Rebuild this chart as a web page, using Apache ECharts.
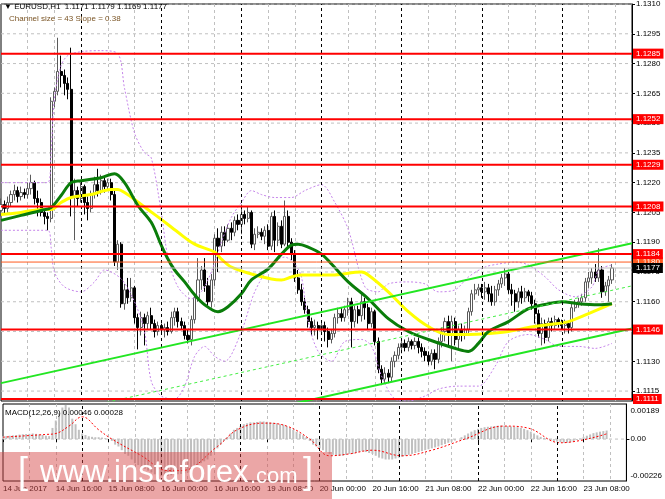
<!DOCTYPE html>
<html><head><meta charset="utf-8">
<script src="https://cdn.jsdelivr.net/npm/echarts/dist/echarts.min.js"></script>
<style>html,body{margin:0;padding:0;background:#fff}#c{width:665px;height:499px}</style>
</head><body><div id="c"></div>
<script>
// ---------- data ----------
const tradingDays = ['14 Jun','15 Jun','16 Jun','19 Jun','20 Jun','21 Jun','22 Jun','23 Jun'];
const xTickLabels = ['14 Jun 2017','14 Jun 16:00','15 Jun 08:00','16 Jun 00:00','16 Jun 16:00','19 Jun 08:00','20 Jun 00:00','20 Jun 16:00','21 Jun 08:00','22 Jun 00:00','22 Jun 16:00','23 Jun 08:00'];
const priceTicks = [1.1310,1.1295,1.1280,1.1265,1.1250,1.1235,1.1220,1.1205,1.1190,1.1175,1.1160,1.1145,1.1130,1.1115];
const levels = [1.1285,1.1252,1.1229,1.1208,1.1184,1.1146,1.1111];
const level1180 = 1.1180;
const bidPrice = 1.1177;
const macdTicks = [0.00189,0,-0.00226];
// candles: [open, close, low, high]
const candles = [
[1.1206,1.1209,1.1203,1.1212],[1.1209,1.1207,1.1204,1.1211],[1.1207,1.1210,1.1205,1.1213],[1.1210,1.1214,1.1208,1.1216],
[1.1214,1.1216,1.1211,1.1219],[1.1216,1.1213,1.1210,1.1218],[1.1213,1.1215,1.1211,1.1218],[1.1215,1.1214,1.1212,1.1217],
[1.1214,1.1217,1.1212,1.1220],[1.1217,1.1220,1.1214,1.1224],[1.1220,1.1212,1.1209,1.1221],[1.1212,1.1210,1.1203,1.1216],
[1.1210,1.1205,1.1203,1.1212],[1.1205,1.1203,1.1199,1.1207],[1.1203,1.1202,1.1196,1.1205],[1.1202,1.1261,1.1200,1.1263],
[1.1261,1.1266,1.1258,1.1268],[1.1266,1.1276,1.1264,1.1293],[1.1276,1.1274,1.1268,1.1284],[1.1274,1.1270,1.1264,1.1277],
[1.1270,1.1267,1.1262,1.1273],[1.1267,1.1213,1.1203,1.1288],[1.1213,1.1216,1.1191,1.1222],[1.1216,1.1212,1.1208,1.1218],
[1.1212,1.1218,1.1210,1.1220],[1.1218,1.1210,1.1204,1.1219],[1.1210,1.1207,1.1201,1.1213],[1.1207,1.1214,1.1205,1.1216],
[1.1214,1.1219,1.1212,1.1223],[1.1219,1.1216,1.1213,1.1227],[1.1216,1.1221,1.1214,1.1224],[1.1221,1.1218,1.1215,1.1223],
[1.1218,1.1220,1.1216,1.1222],[1.1220,1.1214,1.1211,1.1222],[1.1214,1.1180,1.1178,1.1216],[1.1180,1.1189,1.1176,1.1191],
[1.1189,1.1159,1.1157,1.1190],[1.1159,1.1166,1.1156,1.1169],[1.1166,1.1162,1.1159,1.1172],[1.1162,1.1167,1.1160,1.1172],
[1.1167,1.1152,1.1149,1.1168],[1.1152,1.1147,1.1136,1.1154],[1.1147,1.1152,1.1143,1.1155],[1.1152,1.1149,1.1138,1.1154],
[1.1149,1.1153,1.1146,1.1155],[1.1153,1.1149,1.1146,1.1157],[1.1149,1.1145,1.1142,1.1151],[1.1145,1.1148,1.1143,1.1150],
[1.1148,1.1146,1.1144,1.1149],[1.1146,1.1147,1.1142,1.1149],[1.1147,1.1145,1.1143,1.1150],[1.1145,1.1152,1.1144,1.1155],
[1.1152,1.1155,1.1148,1.1157],[1.1155,1.1150,1.1147,1.1157],[1.1150,1.1148,1.1146,1.1152],[1.1148,1.1143,1.1141,1.1150],
[1.1143,1.1141,1.1139,1.1146],[1.1141,1.1151,1.1138,1.1153],[1.1151,1.1162,1.1149,1.1164],[1.1162,1.1171,1.1160,1.1182],
[1.1171,1.1176,1.1166,1.1178],[1.1176,1.1168,1.1165,1.1182],[1.1168,1.1160,1.1158,1.1172],[1.1160,1.1171,1.1157,1.1174],
[1.1171,1.1192,1.1168,1.1194],[1.1192,1.1188,1.1175,1.1197],[1.1188,1.1195,1.1185,1.1198],[1.1195,1.1191,1.1188,1.1198],
[1.1191,1.1197,1.1190,1.1199],[1.1197,1.1195,1.1191,1.1200],[1.1195,1.1201,1.1193,1.1203],[1.1201,1.1199,1.1196,1.1204],
[1.1199,1.1204,1.1194,1.1209],[1.1204,1.1202,1.1199,1.1206],[1.1202,1.1205,1.1200,1.1208],[1.1205,1.1189,1.1187,1.1206],
[1.1189,1.1194,1.1186,1.1197],[1.1194,1.1195,1.1192,1.1198],[1.1195,1.1193,1.1191,1.1197],[1.1193,1.1196,1.1189,1.1198],
[1.1196,1.1188,1.1186,1.1199],[1.1188,1.1203,1.1186,1.1205],[1.1203,1.1191,1.1185,1.1206],[1.1191,1.1198,1.1188,1.1200],
[1.1198,1.1189,1.1187,1.1201],[1.1189,1.1203,1.1188,1.1211],[1.1203,1.1190,1.1187,1.1206],[1.1190,1.1184,1.1181,1.1192],
[1.1184,1.1172,1.1170,1.1186],[1.1172,1.1166,1.1164,1.1176],[1.1166,1.1160,1.1158,1.1169],[1.1160,1.1156,1.1154,1.1162],
[1.1156,1.1150,1.1147,1.1158],[1.1150,1.1147,1.1143,1.1152],[1.1147,1.1148,1.1143,1.1151],[1.1148,1.1146,1.1141,1.1150],
[1.1146,1.1148,1.1144,1.1150],[1.1148,1.1145,1.1140,1.1150],[1.1145,1.1141,1.1137,1.1147],[1.1141,1.1144,1.1139,1.1146],
[1.1144,1.1152,1.1142,1.1154],[1.1152,1.1154,1.1149,1.1157],[1.1154,1.1152,1.1150,1.1157],[1.1152,1.1156,1.1150,1.1158],
[1.1156,1.1160,1.1153,1.1162],[1.1160,1.1150,1.1137,1.1162],[1.1150,1.1156,1.1147,1.1158],[1.1156,1.1153,1.1149,1.1158],
[1.1153,1.1160,1.1150,1.1164],[1.1160,1.1157,1.1151,1.1162],[1.1157,1.1149,1.1146,1.1159],[1.1149,1.1155,1.1147,1.1157],
[1.1155,1.1140,1.1138,1.1156],[1.1140,1.1126,1.1124,1.1142],[1.1126,1.1121,1.1118,1.1128],[1.1121,1.1124,1.1119,1.1127],
[1.1124,1.1122,1.1119,1.1126],[1.1122,1.1130,1.1120,1.1132],[1.1130,1.1133,1.1127,1.1135],[1.1133,1.1137,1.1131,1.1139],
[1.1137,1.1139,1.1134,1.1141],[1.1139,1.1137,1.1135,1.1141],[1.1137,1.1140,1.1135,1.1142],[1.1140,1.1138,1.1136,1.1141],
[1.1138,1.1140,1.1136,1.1142],[1.1140,1.1137,1.1134,1.1142],[1.1137,1.1135,1.1132,1.1139],[1.1135,1.1133,1.1130,1.1137],
[1.1133,1.1130,1.1128,1.1135],[1.1130,1.1134,1.1128,1.1136],[1.1134,1.1131,1.1126,1.1136],[1.1131,1.1140,1.1129,1.1142],
[1.1140,1.1145,1.1137,1.1147],[1.1145,1.1150,1.1140,1.1152],[1.1150,1.1144,1.1137,1.1153],[1.1144,1.1150,1.1130,1.1153],
[1.1150,1.1141,1.1138,1.1152],[1.1141,1.1146,1.1136,1.1148],[1.1146,1.1143,1.1140,1.1149],[1.1143,1.1146,1.1141,1.1148],
[1.1146,1.1155,1.1144,1.1157],[1.1155,1.1164,1.1153,1.1166],[1.1164,1.1166,1.1161,1.1169],[1.1166,1.1167,1.1163,1.1169],
[1.1167,1.1165,1.1162,1.1169],[1.1165,1.1167,1.1161,1.1170],[1.1167,1.1164,1.1160,1.1169],[1.1164,1.1160,1.1158,1.1168],
[1.1160,1.1166,1.1158,1.1168],[1.1166,1.1169,1.1163,1.1171],[1.1169,1.1172,1.1167,1.1174],[1.1172,1.1174,1.1168,1.1177],
[1.1174,1.1166,1.1164,1.1175],[1.1166,1.1164,1.1158,1.1169],[1.1164,1.1160,1.1155,1.1166],[1.1160,1.1165,1.1157,1.1167],
[1.1165,1.1162,1.1159,1.1168],[1.1162,1.1165,1.1160,1.1167],[1.1165,1.1163,1.1160,1.1166],[1.1163,1.1159,1.1156,1.1165],
[1.1159,1.1154,1.1149,1.1161],[1.1154,1.1144,1.1142,1.1156],[1.1144,1.1149,1.1138,1.1152],[1.1149,1.1142,1.1139,1.1151],
[1.1142,1.1150,1.1140,1.1152],[1.1150,1.1148,1.1145,1.1152],[1.1148,1.1151,1.1146,1.1153],[1.1151,1.1149,1.1147,1.1152],
[1.1149,1.1148,1.1146,1.1151],[1.1148,1.1149,1.1144,1.1151],[1.1149,1.1147,1.1144,1.1150],[1.1147,1.1157,1.1145,1.1159],
[1.1157,1.1159,1.1155,1.1161],[1.1159,1.1160,1.1157,1.1162],[1.1160,1.1162,1.1158,1.1164],[1.1162,1.1170,1.1160,1.1172],
[1.1170,1.1172,1.1167,1.1175],[1.1172,1.1175,1.1169,1.1177],[1.1175,1.1172,1.1170,1.1179],[1.1172,1.1176,1.1170,1.1187],
[1.1176,1.1165,1.1162,1.1178],[1.1165,1.1168,1.1163,1.1170],[1.1168,1.1171,1.1160,1.1173],[1.1171,1.1177,1.1169,1.1179]
];
// moving averages, read at sampled bars: [barIndex, price]
const maGreen = [[0,1.1201],[6,1.12035],[12,1.1206],[15,1.12075],[18,1.12135],[21,1.1220],[24,1.1221],[30,1.12225],[34,1.12245],[37,1.1220],[41,1.12085],[45,1.1200],[48,1.11885],[50,1.11815],[52,1.1176],[55,1.1170],[58,1.11635],[61,1.11585],[65,1.1155],[68,1.11575],[72,1.1164],[75,1.1171],[80,1.11765],[84,1.1184],[87,1.11885],[89,1.1189],[92,1.11875],[96,1.1184],[99,1.1179],[104,1.1170],[110,1.11615],[116,1.11515],[122,1.1145],[128,1.1141],[137,1.1136],[140,1.1135],[143,1.1139],[146,1.1145],[152,1.1150],[158,1.11565],[164,1.1159],[168,1.1160],[173,1.1159],[179,1.11585],[183,1.1159]];
const maYellow = [[0,1.1204],[6,1.1205],[12,1.12065],[15,1.12065],[18,1.1210],[21,1.12125],[27,1.1214],[33,1.12165],[35,1.12165],[37,1.1215],[42,1.1209],[44,1.12065],[48,1.12015],[53,1.1195],[58,1.1189],[64,1.1185],[66,1.11815],[69,1.11775],[75,1.1174],[81,1.11715],[84,1.1171],[87,1.11725],[90,1.11735],[99,1.11735],[108,1.1175],[110,1.11735],[116,1.1165],[122,1.1155],[128,1.11475],[134,1.11435],[140,1.11435],[146,1.1144],[152,1.1145],[158,1.1147],[164,1.11485],[170,1.1150],[176,1.1154],[183,1.1159]];
// bands (dotted), read at sampled bars
const bandUpper = [[0,1.1220],[14,1.1220],[15,1.1235],[16,1.12625],[18,1.1279],[20,1.1284],[24,1.1286],[30,1.12865],[35,1.1285],[37,1.12675],[40,1.1245],[43,1.1235],[45,1.12325],[48,1.1205],[50,1.11825],[53,1.11675],[57,1.11615],[60,1.1165],[63,1.1175],[66,1.1190],[69,1.12025],[72,1.1210],[75,1.1216],[78,1.1214],[82,1.12125],[87,1.12125],[91,1.1216],[96,1.1219],[100,1.1210],[104,1.11965],[109,1.11675],[113,1.1165],[116,1.1169],[122,1.1170],[127,1.1169],[131,1.1165],[136,1.1166],[140,1.11725],[145,1.11775],[149,1.1179],[154,1.1180],[158,1.11785],[163,1.11725],[167,1.1166],[172,1.11625],[177,1.11675],[179,1.1176],[183,1.11785]];
const bandLower = [[0,1.1196],[14,1.1196],[15,1.11875],[16,1.1175],[19,1.11675],[24,1.1165],[28,1.1170],[31,1.1176],[36,1.11715],[40,1.1160],[43,1.1145],[45,1.1120],[48,1.11125],[52,1.1111],[55,1.11175],[58,1.11325],[61,1.11375],[64,1.11325],[67,1.1130],[72,1.1145],[76,1.1165],[81,1.1179],[85,1.11825],[88,1.1179],[90,1.11725],[92,1.1150],[95,1.1135],[99,1.1130],[103,1.1140],[108,1.1141],[111,1.11375],[114,1.11225],[118,1.1111],[122,1.1110],[127,1.11125],[131,1.1116],[137,1.11175],[143,1.11175],[148,1.11275],[152,1.1140],[158,1.11435],[163,1.1141],[167,1.11375],[173,1.11375],[178,1.11365],[183,1.1139]];
// equidistant channel (price at first and last slot)
const chUpper = [[0,1.1119],[189,1.11895]];
const chMiddle = [[0,1.10975],[189,1.1168]];
const chLower = [[0,1.1076],[189,1.11465]];
// MACD main (histogram) and signal
const macdHist = [
0.00015,0.00016,0.00018,0.0002,0.00022,0.00024,0.00026,0.00027,0.00028,0.0003,0.00028,0.00025,0.00022,0.00018,0.00016,
0.0006,0.001,0.0014,0.0017,0.00184,0.0017,0.0011,0.0008,0.0005,0.0003,0.00022,0.00015,0.00012,0.0001,0.0001,0.00008,0.00005,0.0,-0.0001,
-0.0003,-0.0004,-0.0006,-0.0008,-0.0009,-0.0011,-0.0013,-0.0014,-0.0015,-0.0016,-0.0017,-0.0018,-0.0019,-0.00195,-0.002,-0.002,-0.00198,-0.00195,-0.0019,-0.0019,-0.00188,-0.00185,-0.0018,-0.0017,-0.0015,-0.0014,-0.0013,-0.0012,-0.0011,-0.0009,-0.0007,-0.0005,-0.0003,-0.0001,
0.0001,0.0003,0.0005,0.0006,0.0007,0.0008,0.00085,0.0009,0.0009,0.00092,0.00095,0.00095,0.00093,0.0009,0.00088,0.00085,0.0008,0.00078,0.0007,0.0006,0.0005,0.0004,0.0003,0.0002,0.0001,
-0.0001,-0.0003,-0.0004,-0.0005,-0.0006,-0.0007,-0.0008,-0.00085,-0.0009,-0.0009,-0.0009,-0.00085,-0.0008,-0.0008,-0.00075,-0.0007,-0.00065,-0.0007,-0.00075,-0.0008,-0.0009,-0.001,-0.00105,-0.0011,-0.0011,-0.0011,-0.00105,-0.001,-0.00095,-0.0009,-0.00085,-0.0008,-0.00075,-0.0007,-0.00065,
-0.0006,-0.00055,-0.0005,-0.00045,-0.0004,-0.00033,-0.00027,-0.0002,-0.00014,-0.00008,0.0,0.0001,
0.0002,0.0003,0.0004,0.00048,0.00055,0.0006,0.00064,0.00066,0.00068,0.0007,0.00072,0.00073,0.00072,0.0007,0.00068,0.00066,0.00064,0.0006,0.00055,0.00048,0.0004,0.0003,0.0002,0.00012,0.00006,0.00002,
-0.00004,-0.0001,-0.00014,-0.00017,-0.0002,-0.0002,-0.00018,-0.00012,-0.00005,0.00003,0.0001,0.00018,0.00025,0.00032,0.00036,0.0004,0.00043,0.00046
];
const macdSignal = [[0,0.0001],[13,0.00025],[16,0.0003],[20,0.0007],[24,0.0012],[29,0.0005],[33,0.0],[42,-0.0009],[50,-0.0017],[54,-0.0017],[65,-0.0004],[71,0.0005],[79,0.00086],[86,0.0007],[93,0.0],[99,-0.0009],[105,-0.0008],[112,-0.0006],[121,-0.0009],[130,-0.0006],[140,0.0],[152,0.0007],[159,0.0006],[169,-0.0002],[183,0.00028]];

// ---------- build ----------
const cats = [];
for (const d of tradingDays) for (let h = 0; h < 24; h++) cats.push(d + ' ' + String(h).padStart(2,'0') + ':00');
const categories = cats.slice(0, 190);
const lastSlot = categories.length - 1;
const daySeps = [];
for (let i = 24; i < 190; i += 24) daySeps.push(i);

const FONT = '"Liberation Sans", Arial, sans-serif';
const gridLineStyle = {color:'#c0c0c0', type:[3,3], width:1};
const vgrid = (i) => i % 8 === 0 && i % 24 !== 0 && i > 0;
const sepLines = daySeps.map(i => ({xAxis: i}));

function hLine(v, xi, yi, style, z) {
  return {type:'line', xAxisIndex:xi, yAxisIndex:yi, z:z, silent:true, showSymbol:false,
    data:[[0, v],[lastSlot, v]], lineStyle:style};
}
function levelSeries(v, lineColor, lineWidth, boxColor, z) {
  const s = hLine(v, 0, 0, {color:lineColor, width:lineWidth}, z);
  s.endLabel = {show:true, formatter:v.toFixed(4), distance:1, fontSize:8, fontFamily:FONT, color:'#fff',
      backgroundColor:boxColor, padding:[1,3,0,3], lineHeight:9};
  return s;
}

const series = [
  // horizontal grid
  ...priceTicks.map(v => hLine(v, 0, 0, gridLineStyle, 1)),
  hLine(0, 1, 1, gridLineStyle, 1),
  // day separators (carrier line invisible)
  {type:'line', xAxisIndex:0, yAxisIndex:0, data:chUpper, z:1, silent:true, showSymbol:false, lineStyle:{opacity:0},
   markLine:{symbol:'none', silent:true, label:{show:false}, lineStyle:{color:'#000', type:[3,3], width:1, opacity:1},
     data: sepLines}},
  {type:'line', xAxisIndex:1, yAxisIndex:1, data:[[0,0],[lastSlot,0]], z:1, silent:true, showSymbol:false, lineStyle:{opacity:0},
   markLine:{symbol:'none', silent:true, label:{show:false}, lineStyle:{color:'#000', type:[3,3], width:1, opacity:1},
     data: sepLines}},
  // candles
  {type:'candlestick', xAxisIndex:0, yAxisIndex:0, data:candles, z:3, barWidth:2.6,
   itemStyle:{color:'#ffffff', color0:'#000000', borderColor:'#5a5a5a', borderColor0:'#000000', borderWidth:1}},
  // bands
  {type:'line', xAxisIndex:0, yAxisIndex:0, data:bandUpper, z:4, showSymbol:false, smooth:0.3,
   lineStyle:{color:'#c584ea', width:1, type:[2,2]}},
  {type:'line', xAxisIndex:0, yAxisIndex:0, data:bandLower, z:4, showSymbol:false, smooth:0.3,
   lineStyle:{color:'#c584ea', width:1, type:[2,2]}},
  // MAs
  {type:'line', xAxisIndex:0, yAxisIndex:0, data:maYellow, z:4, showSymbol:false, smooth:0.35,
   lineStyle:{color:'#ffff00', width:3}},
  {type:'line', xAxisIndex:0, yAxisIndex:0, data:maGreen, z:4, showSymbol:false, smooth:0.35,
   lineStyle:{color:'#0a7d0a', width:3}},
  // channel
  {type:'line', xAxisIndex:0, yAxisIndex:0, data:chUpper, z:5, showSymbol:false, lineStyle:{color:'#22e622', width:2}},
  {type:'line', xAxisIndex:0, yAxisIndex:0, data:chLower, z:5, showSymbol:false, lineStyle:{color:'#22e622', width:2}},
  {type:'line', xAxisIndex:0, yAxisIndex:0, data:chMiddle, z:5, showSymbol:false, lineStyle:{color:'#44ee44', width:1, type:[3,3]}},
  // horizontal levels with price boxes
  levelSeries(level1180, '#ff5a1e', 1, '#ff5a1e', 6),
  ...levels.map(v => levelSeries(v, '#ff0000', 2, '#ff0000', 7)),
  levelSeries(bidPrice, '#c0c0c0', 1, '#000000', 8),
  // MACD
  {type:'bar', xAxisIndex:1, yAxisIndex:1, data:macdHist, barWidth:2, z:3, itemStyle:{color:'#c0c0c0'}},
  {type:'line', xAxisIndex:1, yAxisIndex:1, data:macdSignal, z:4, showSymbol:false, smooth:0.4,
   lineStyle:{color:'#ff0000', width:1, type:[2,2]}}
];

const chart = echarts.init(document.getElementById('c'), null, {renderer:'canvas'});
chart.setOption({
  animation:false,
  backgroundColor:'#ffffff',
  grid:[
    {left:1, top:1, width:631, height:400, show:true, borderColor:'#000', borderWidth:1, backgroundColor:'transparent'},
    {left:1, top:404, width:631, height:77, show:true, borderColor:'#000', borderWidth:1, backgroundColor:'transparent'}
  ],
  xAxis:[
    {type:'category', gridIndex:0, data:categories, boundaryGap:false,
     axisLine:{show:false}, axisTick:{show:false}, axisLabel:{show:false},
     splitLine:{show:true, interval:vgrid, lineStyle:gridLineStyle}},
    {type:'category', gridIndex:1, data:categories, boundaryGap:false,
     axisLine:{show:false},
     axisTick:{show:true, interval:(i)=>i%16===0, length:3, lineStyle:{color:'#000'}},
     axisLabel:{show:true, interval:(i)=>i%16===0, align:'left', margin:4, fontSize:8, fontFamily:FONT, color:'#000',
       formatter:(v, idx)=> xTickLabels[idx/16] || ''},
     splitLine:{show:true, interval:vgrid, lineStyle:gridLineStyle}}
  ],
  yAxis:[
    {type:'value', gridIndex:0, position:'right', min:1.1110, max:1.1310,
     axisLine:{show:true, lineStyle:{color:'#000'}},
     axisTick:{show:true, customValues:priceTicks, length:3, lineStyle:{color:'#000'}},
     axisLabel:{customValues:priceTicks, formatter:(v)=>v.toFixed(4), fontSize:8, fontFamily:FONT, color:'#000', margin:4, padding:[4,0,0,0]},
     splitLine:{show:false}},
    {type:'value', gridIndex:1, position:'right', min:-0.00226, max:0.00189,
     axisLine:{show:true, lineStyle:{color:'#000'}},
     axisTick:{show:true, customValues:[0], length:3, lineStyle:{color:'#000'}},
     axisLabel:{customValues:[0], formatter:()=> '0.00', fontSize:8, fontFamily:FONT, color:'#000', margin:4},
     splitLine:{show:false}},
    {type:'value', gridIndex:1, position:'right', min:-0.00226, max:0.00189,
     axisLine:{show:false}, axisTick:{show:false},
     axisLabel:{customValues:[macdTicks[0]], formatter:(v)=>v.toFixed(5), verticalAlign:'top', padding:[3,0,0,0], fontSize:8, fontFamily:FONT, color:'#000', margin:4},
     splitLine:{show:false}},
    {type:'value', gridIndex:1, position:'right', min:-0.00226, max:0.00189,
     axisLine:{show:false}, axisTick:{show:false},
     axisLabel:{customValues:[macdTicks[2]], formatter:(v)=>v.toFixed(5), verticalAlign:'bottom', padding:[0,0,1,0], fontSize:8, fontFamily:FONT, color:'#000', margin:4},
     splitLine:{show:false}}
  ],
  series: series,
  graphic:[
    {type:'text', left:4, top:3, z:10, style:{text:'▼ EURUSD,H1  1.1171 1.1179 1.1169 1.1177', fill:'#000', font:'8px '+FONT}},
    {type:'text', left:9, top:15, z:10, style:{text:'Channel size = 43 Slope = 0.38', fill:'#7a5424', font:'8px '+FONT}},
    {type:'text', left:5, top:409, z:10, style:{text:'MACD(12,26,9) 0.00046 0.00028', fill:'#000', font:'8px '+FONT}},
    {type:'rect', z:20, shape:{x:0, y:452, width:332, height:47}, style:{fill:'rgba(214,70,70,0.48)'}},
    {type:'text', z:21, left:18, top:455, style:{text:'[', fill:'#fff', font:'300 36px '+FONT}},
    {type:'text', z:21, left:40, top:458, style:{text:'www.instaforex', fill:'#fff', font:'31px '+FONT}},
    {type:'text', z:21, left:250, top:466, style:{text:'.com', fill:'#fff', font:'22px '+FONT}},
    {type:'text', z:21, left:303, top:455, style:{text:']', fill:'#fff', font:'300 36px '+FONT}}
  ]
});
</script></body></html>
